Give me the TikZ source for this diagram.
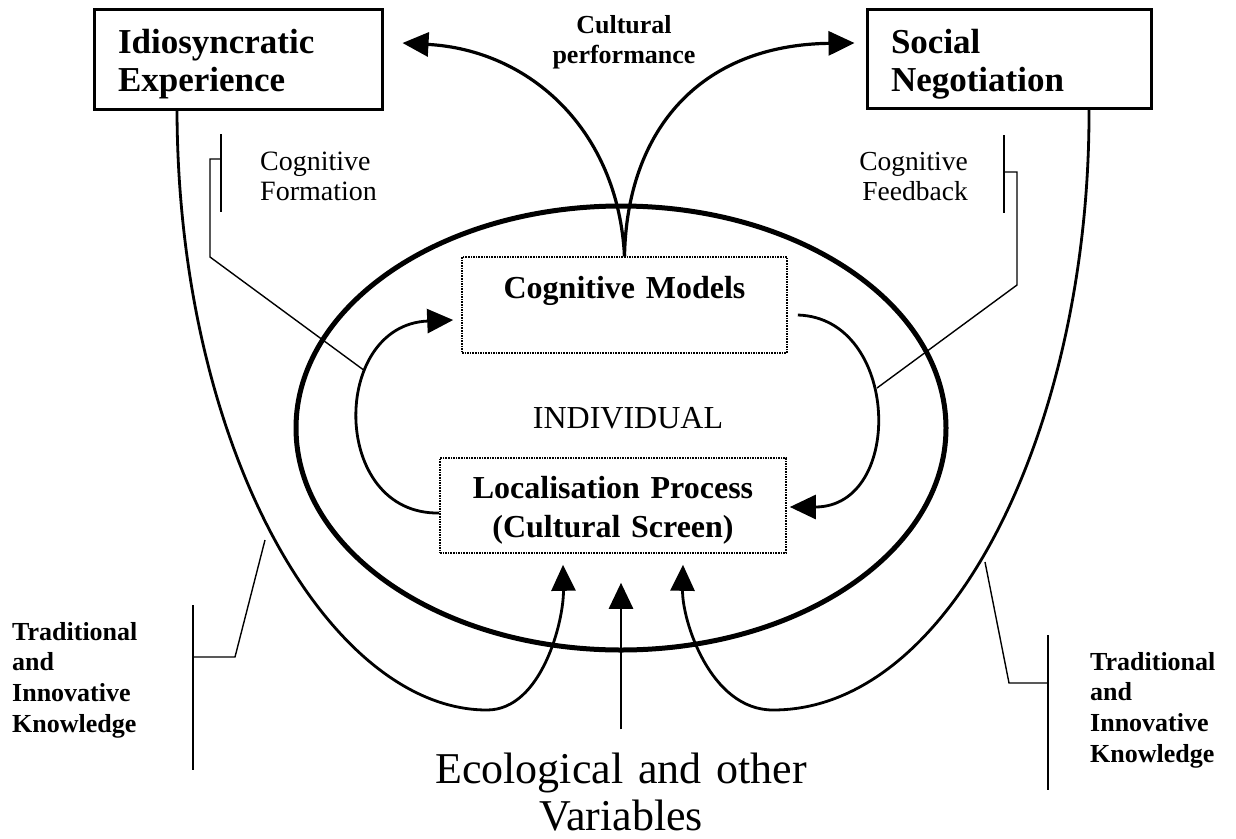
\documentclass[tikz,border=0pt]{standalone}
\usepackage{fontspec}
\setmainfont{Liberation Serif}
\usetikzlibrary{arrows.meta}
\tikzset{
  boxA/.style={draw, line width=3pt, inner xsep=24pt, inner ysep=0pt, align=left,
    font=\fontsize{35}{38}\selectfont\bfseries},
  dotbox/.style={draw, densely dotted, line width=1.6pt, inner sep=0pt, align=center,
    font=\fontsize{32}{39}\selectfont\bfseries},
  lbl/.style={inner sep=0pt},
  thinl/.style={line width=1.4pt},
  arr/.style={-{Triangle[length=26pt,width=24pt]}},
  curveA/.style={arr, line width=3.2pt},
  curveB/.style={arr, line width=2.8pt},
}
\begin{document}
\begin{tikzpicture}[x=1pt,y=-1pt]
\path[use as bounding box] (0,0) rectangle (1236,838);

% boxes
\node[boxA, text width=240pt, text height=44pt, text depth=56pt] (ie) at (238,59) {Idiosyncratic\\Experience};
\node[boxA, text width=236pt, text height=44pt, text depth=55pt] (sn) at (1009,59) {Social\\Negotiation};
\node[dotbox, text width=325pt, text height=41pt, text depth=55pt] (cm) at (624.5,305) {Cognitive Models};
\node[dotbox, text width=346pt, text height=40pt, text depth=55pt] (lp) at (613,505.5) {Localisation Process\\(Cultural Screen)};

% labels
\node[lbl, anchor=base, text width=200pt, align=center, font=\fontsize{26}{30}\selectfont\bfseries] (cp) at (624,33) {Cultural\\performance};
\node[lbl, anchor=base west, text width=150pt, align=left, font=\fontsize{28}{30}\selectfont] (cf) at (260,170) {Cognitive\\Formation};
\node[lbl, anchor=base east, text width=150pt, align=right, font=\fontsize{27.5}{30}\selectfont] (cfb) at (968,170) {Cognitive\\Feedback};
\node[lbl, anchor=base, font=\fontsize{32}{38}\selectfont] (ind) at (628,428) {INDIVIDUAL};
\node[lbl, anchor=base west, text width=160pt, align=left, font=\fontsize{26}{30.7}\selectfont\bfseries] (tk1) at (12,640) {Traditional\\and\\Innovative\\Knowledge};
\node[lbl, anchor=base west, text width=160pt, align=left, font=\fontsize{26}{30.7}\selectfont\bfseries] (tk2) at (1090,670) {Traditional\\and\\Innovative\\Knowledge};
\node[lbl, anchor=base, text width=500pt, align=center, font=\fontsize{44}{47}\selectfont] (eco) at (621,783) {Ecological and other\\Variables};

% big ellipse
\draw[line width=5pt] (621,428) ellipse [x radius=325, y radius=222];

% coordinates
\coordinate (ieIn) at ([xshift=19pt,yshift=16pt]ie.east);
\coordinate (snIn) at ([xshift=-11pt,yshift=16pt]sn.west);
\coordinate (uL0) at ([xshift=-61pt]ie.south);
\coordinate (uR0) at ([xshift=80pt]sn.south);
\coordinate (tipL) at ([xshift=-50pt,yshift=-11pt]lp.south);
\coordinate (tipR) at ([xshift=70pt,yshift=-11pt]lp.south);
\coordinate (lpL) at ([yshift=-7.5pt]lp.west);
\coordinate (cmLtip) at ([xshift=-8pt,yshift=-15pt]cm.west);
\coordinate (cmR) at ([xshift=10pt,yshift=-10pt]cm.east);
\coordinate (lpRtip) at ([xshift=3pt,yshift=-1.5pt]lp.east);
\coordinate (cfEnd) at (365,371);
\coordinate (fbEnd) at (877,388);
\coordinate (tkLend) at (265,540);
\coordinate (tkRend) at (985,562);

% cultural performance arrows
\draw[curveA] (cm.north) .. controls (618,130) and (530,50) .. (ieIn);
\draw[curveA] (cm.north) .. controls (627,130) and (700,45) .. (snIn);

% U curves
\draw[curveB] (uL0) .. controls (178,450) and (330,710) .. (487,710)
   .. controls (542,710) and (564,620) .. (tipL);
\draw[curveB] (uR0) .. controls (1090,420) and (955,710) .. (773,710)
   .. controls (710,710) and (682,620) .. (tipR);

% central arrow
\draw[arr, line width=2.8pt, shorten >=29pt] ([yshift=23pt]eco.north) -- (eco.north |- lp.south);

% inner loops
\draw[curveB] (lpL) .. controls (330,515) and (330,325) .. (cmLtip);
\draw[curveB] (cmR) .. controls (900,318) and (905,507) .. (lpRtip);

% brackets
\draw[thinl] (221,134) -- (221,212);
\draw[thinl] (221,159) -- (210,159) -- (210,257) -- (cfEnd);
\draw[thinl] (1004,135) -- (1004,213);
\draw[thinl] (1004,172) -- (1017,172) -- (1017,285) -- (fbEnd);
\draw[thinl] (193,605) -- (193,770);
\draw[thinl] (193,657) -- (235,657) -- (tkLend);
\draw[thinl] (1048,635) -- (1048,790);
\draw[thinl] (1048,683) -- (1009,683) -- (tkRend);
\end{tikzpicture}
\end{document}
